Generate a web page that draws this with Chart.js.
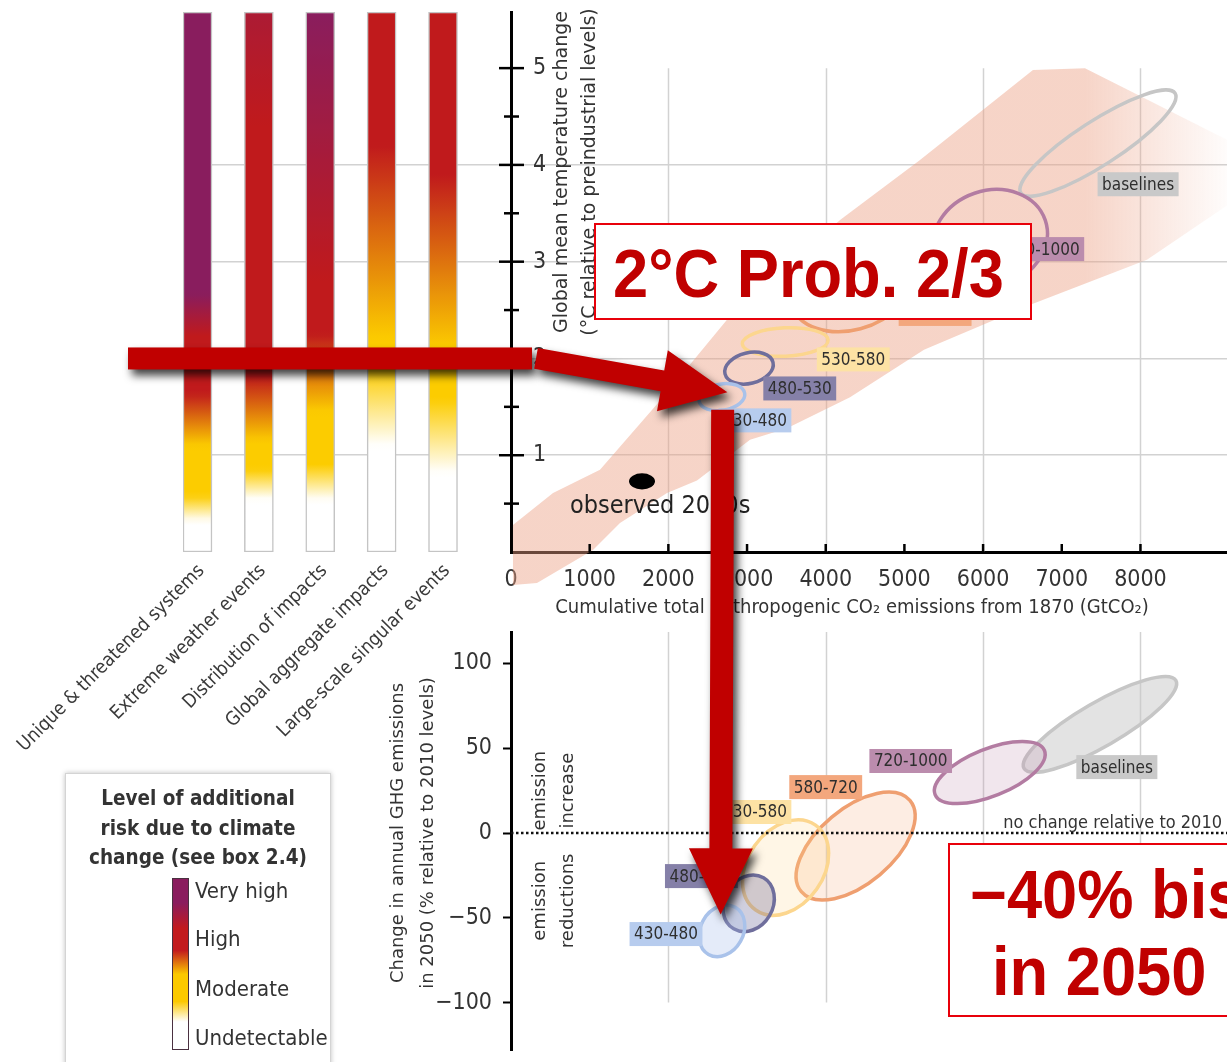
<!DOCTYPE html>
<html>
<head>
<meta charset="utf-8">
<script src="https://cdn.jsdelivr.net/npm/chart.js@4.4.1/dist/chart.umd.min.js"></script>
<style>
  html, body { margin: 0; padding: 0; background: #fff; }
  body { width: 1227px; height: 1062px; position: relative; overflow: hidden;
         font-family: "Liberation Sans Narrow", "DejaVu Sans Condensed", "Roboto Condensed", sans-serif; color: #333; }
  canvas { position: absolute; left: 0; }
  #riskChart { top: 0; z-index: 1; }
  #tempChart { top: 0; z-index: 2; }
  #ghgChart { top: 620px; z-index: 3; }
  #arrows { top: 0; z-index: 5; pointer-events: none; }
  .legend { position: absolute; left: 65px; top: 773px; width: 264px; height: 300px; background: #fff;
            border: 1px solid #d4d4d4; box-shadow: 0 0 5px rgba(0,0,0,0.25); z-index: 4; }
  .legend h4 { margin: 0; position: absolute; left: 0; top: 10px; width: 100%; text-align: center;
               font-size: 20.5px; line-height: 29.5px; font-weight: bold; color: #333; }
  .legend .bar { position: absolute; left: 106px; top: 104px; width: 15px; height: 170px; border: 1.5px solid #4a3040;
                 background: linear-gradient(to bottom, #8a1c5e 0%, #8a1c5e 14%, #c21a1e 29%, #c21a1e 42%, #fcc800 56%, #fcc800 72%, #ffffff 84%, #ffffff 100%); }
  .legend span { position: absolute; left: 129px; font-size: 22px; line-height: 26px; color: #333; }
  .redbox { position: absolute; background: #fff; border: 2px solid #e8000a; z-index: 6; }
  .redtext { position: absolute; z-index: 7; font-family: "Liberation Sans", Arial, sans-serif; font-weight: bold;
             font-size: 68px; line-height: 68px; color: #c00000; white-space: nowrap;
             transform: scaleX(0.93); transform-origin: left center; }
</style>
</head>
<body>
<canvas id="riskChart" width="512" height="760"></canvas>
<canvas id="tempChart" width="1227" height="640"></canvas>
<canvas id="ghgChart" width="1227" height="442"></canvas>
<canvas id="arrows" width="1227" height="1062"></canvas>

<div class="legend">
  <h4>Level of additional<br>risk due to climate<br>change (see box 2.4)</h4>
  <div class="bar"></div>
  <span style="top:104px">Very high</span>
  <span style="top:152px">High</span>
  <span style="top:202px">Moderate</span>
  <span style="top:251px">Undetectable</span>
</div>

<div class="redbox" style="left:594px; top:223px; width:434px; height:93px;"></div>
<div class="redtext" style="left:613px; top:239px;">2°C Prob. 2/3</div>
<div class="redbox" style="left:948px; top:843px; width:300px; height:170px;"></div>
<div class="redtext" style="left:970px; top:860px;">−40% bis</div>
<div class="redtext" style="left:992px; top:937px;">in 2050</div>

<script>
// ---- left panel: risk of climate impacts by warming level ----
const riskCategories = ['Unique & threatened systems', 'Extreme weather events', 'Distribution of impacts',
                        'Global aggregate impacts', 'Large-scale singular events'];
const riskBarTop = [5.58, 5.58, 5.58, 5.58, 5.58];
// warming (°C) at which each risk level is reached, and half width of the colour change
const moderateAt = [0.45, 0.70, 0.72, 1.50, 1.20];
const moderateSpread = [0.13, 0.15, 0.18, 0.40, 0.38];
const highAt = [1.37, 1.48, 1.85, 3.20, 3.00];
const highSpread = [0.27, 0.33, 0.40, 1.00, 0.90];
const veryHighAt = [2.45, 6.00, 4.20, null, null];
const veryHighSpread = [0.22, 1.60, 1.40, null, null];

// ---- upper right: warming vs cumulative CO2 ----
const scenarios = ['baselines', '720-1000', '580-720', '530-580', '480-530', '430-480'];
// outline of the model range (upper edge out, lower edge back)
const plumeCO2 = [25, 534, 1131, 1932, 2745, 4182, 5198, 6634, 7295, 9100, 9100,
                  8083, 6584, 5249, 4309, 3508, 3038, 2364, 1983, 1385, 1042, 330, 25];
const plumeTemp = [0.28, 0.61, 0.85, 1.60, 2.40, 3.43, 4.05, 4.98, 5.00, 4.26, 3.58,
                   3.02, 2.55, 2.09, 1.60, 1.28, 1.16, 0.74, 0.61, 0.30, 0.02, -0.32, -0.34];
// ends of the long axis of each scenario ellipse, and its short/long ratio
const tempEllipseCO2 = [[6480, 8440], [5390, 6790], [3570, 5050], [2940, 4030], [2720, 3330], [2390, 2970]];
const tempEllipseT = [[3.71, 4.74], [3.04, 3.43], [2.55, 2.87], [2.15, 2.19], [1.84, 1.96], [1.56, 1.64]];
const tempEllipseRatio = [0.24, 0.83, 0.67, 0.33, 0.62, 0.57];
const tempLabelCO2 = [7970, 6760, 5390, 4350, 3670, 3100];
const tempLabelT = [3.80, 3.13, 2.46, 1.99, 1.69, 1.36];
const observedCO2 = [1500, 1830];
const observedT = [0.73, 0.73];
const observedLabel = { co2: 750, t: 0.475, text: 'observed 2000s' };

// ---- lower right: change in GHG emissions in 2050 ----
const ghgEllipseCO2 = [[6520, 8450], [5390, 6780], [3690, 5070], [3110, 3870], [2830, 3210], [2510, 2850]];
const ghgEllipsePct = [[38.1, 90.0], [22.7, 48.7], [-34.6, 19.2], [-45.4, 4.7], [-56.5, -26.4], [-71.6, -43.8]];
const ghgEllipseRatio = [0.25, 0.40, 0.53, 0.73, 0.82, 0.79];
const ghgLabelCO2 = [7700, 5080, 4000, 3100, 2420, 1970];
const ghgLabelPct = [38.9, 42.5, 27.1, 12.4, -25.4, -59.6];

const co2Ticks = [0, 1000, 2000, 3000, 4000, 5000, 6000, 7000, 8000];
const co2Grid = [2000, 4000, 6000, 8000];
const tempTicks = [1, 2, 3, 4, 5];
const tempGrid = [1, 2, 3, 4];
const pctTicks = [-100, -50, 0, 50, 100];

// styles
const COND = '"Liberation Sans Narrow", "DejaVu Sans Condensed", "Roboto Condensed", sans-serif';
const WIDE = '"DejaVu Sans", Verdana, sans-serif';
const stroke = ['#c6c6c6', '#b37ca2', '#ef9f70', '#fcd68e', '#6f6e9c', '#a9c2ea'];
const tagBg = ['#c9c9c9', '#bb8cad', '#f3a77d', '#fde2a4', '#8580a8', '#b7ccee'];
const ghgFill = ['rgba(200,200,200,0.5)', 'rgba(190,140,175,0.22)', 'rgba(245,165,115,0.2)',
                 'rgba(253,215,140,0.22)', 'rgba(100,95,145,0.3)', 'rgba(165,190,235,0.3)'];
const levelColours = { none: [255, 255, 255], moderate: [252, 204, 0], high: [192, 26, 28], veryHigh: [137, 29, 94] };
const gridColour = '#d2d2d2';

Chart.defaults.font.family = COND;
Chart.defaults.color = '#333';

function ramp(t, at, spread) {
  if (at == null) return 0;
  return Math.min(1, Math.max(0, (t - at + spread) / (2 * spread)));
}
function mix(a, b, w) { return a.map((v, k) => v + (b[k] - v) * w); }
function riskColour(i, t) {
  let c = levelColours.none;
  c = mix(c, levelColours.moderate, ramp(t, moderateAt[i], moderateSpread[i]));
  c = mix(c, levelColours.high, ramp(t, highAt[i], highSpread[i]));
  c = mix(c, levelColours.veryHigh, ramp(t, veryHighAt[i], veryHighSpread[i]));
  return 'rgb(' + c.map(Math.round).join(',') + ')';
}

function riskFill(c) {
  const chart = c.chart;
  if (!chart.chartArea) return '#fff';
  const i = c.dataIndex;
  const y = chart.scales.y;
  const g = chart.ctx.createLinearGradient(0, y.getPixelForValue(0), 0, y.getPixelForValue(riskBarTop[i]));
  for (let k = 0; k <= 80; k++) {
    g.addColorStop(k / 80, riskColour(i, riskBarTop[i] * k / 80));
  }
  return g;
}

// keep the plot area where the layout padding puts it
function noEdgePadding(s) {
  s.paddingTop = 0; s.paddingBottom = 0; s.paddingLeft = 0; s.paddingRight = 0;
}

// rotated multi-line text
function sideText(ctx, lines, x, y, gap, font) {
  ctx.save();
  ctx.font = font;
  ctx.fillStyle = '#333';
  ctx.textAlign = 'center';
  ctx.textBaseline = 'middle';
  lines.forEach((s, k) => {
    ctx.save();
    ctx.translate(x + k * gap, y);
    ctx.rotate(-Math.PI / 2);
    ctx.fillText(s, 0, 0);
    ctx.restore();
  });
  ctx.restore();
}

// ellipses are drawn from the two ends of their long axis, placed by the chart's scales
const ellipsePlugin = {
  id: 'ellipses',
  beforeDatasetsDraw(chart) {
    const ctx = chart.ctx;
    const {x, y} = chart.scales;
    ctx.save();
    ctx.strokeStyle = gridColour;
    ctx.lineWidth = 1.5;
    const top = chart.options.gridTop;
    const bottom = chart.options.gridBottom;
    co2Grid.forEach(v => {
      const px = Math.round(x.getPixelForValue(v)) + 0.5;
      ctx.beginPath();
      ctx.moveTo(px, top == null ? chart.chartArea.top : y.getPixelForValue(top));
      ctx.lineTo(px, y.getPixelForValue(bottom));
      ctx.stroke();
    });
    // plume
    chart.data.datasets.forEach((ds, i) => {
      if (!ds.plume) return;
      const pts = chart.getDatasetMeta(i).data;
      const g = ctx.createLinearGradient(x.getPixelForValue(7300), 0, x.getPixelForValue(9100), 0);
      g.addColorStop(0, 'rgba(236,160,132,0.45)');
      g.addColorStop(1, 'rgba(236,160,132,0.03)');
      ctx.fillStyle = g;
      ctx.beginPath();
      pts.forEach((p, k) => k ? ctx.lineTo(p.x, p.y) : ctx.moveTo(p.x, p.y));
      ctx.closePath();
      ctx.fill();
    });
    ctx.restore();
  },
  afterDatasetsDraw(chart) {
    const ctx = chart.ctx;
    const {x, y} = chart.scales;
    ctx.save();
    chart.data.datasets.forEach((ds, i) => {
      if (!ds.ellipseRatio) return;
      const [a, b] = chart.getDatasetMeta(i).data;
      const r = Math.hypot(b.x - a.x, b.y - a.y) / 2;
      ctx.beginPath();
      ctx.ellipse((a.x + b.x) / 2, (a.y + b.y) / 2, r, r * ds.ellipseRatio, Math.atan2(b.y - a.y, b.x - a.x), 0, Math.PI * 2);
      if (ds.fillColour) { ctx.fillStyle = ds.fillColour; ctx.fill(); }
      if (ds.strokeColour) { ctx.lineWidth = 3.5; ctx.strokeStyle = ds.strokeColour; ctx.stroke(); }
    });
    ctx.font = '17px ' + COND;
    ctx.textAlign = 'center';
    ctx.textBaseline = 'middle';
    chart.data.datasets.forEach(ds => {
      if (!ds.tag) return;
      const cx = x.getPixelForValue(ds.tagX), cy = y.getPixelForValue(ds.tagY);
      const w = ctx.measureText(ds.tag).width + 9;
      ctx.fillStyle = ds.tagBg;
      ctx.fillRect(cx - w / 2, cy - 12, w, 24);
      ctx.fillStyle = '#2e2e2e';
      ctx.fillText(ds.tag, cx, cy + 1);
    });
    ctx.restore();
  }
};

function ellipseSets(co2, val, ratio, labX, labY, withFill) {
  return scenarios.map((s, i) => ({
    data: [{x: co2[i][0], y: val[i][0]}, {x: co2[i][1], y: val[i][1]}],
    pointRadius: 0, pointHoverRadius: 0,
    ellipseRatio: ratio[i], strokeColour: stroke[i], fillColour: withFill ? ghgFill[i] : null,
    tag: s, tagX: labX[i], tagY: labY[i], tagBg: tagBg[i]
  }));
}

// ---------- left risk bars ----------
const riskChart = new Chart(document.getElementById('riskChart'), {
  type: 'bar',
  data: {
    datasets: [{
      data: riskCategories.map((_, i) => ({x: i, y: riskBarTop[i]})),
      backgroundColor: riskFill,
      borderColor: '#c4c4c4',
      borderWidth: 1.5,
      borderSkipped: false,
      barThickness: 29
    }]
  },
  options: {
    responsive: false, animation: false, events: [],
    layout: { autoPadding: false, padding: { top: 12, left: 0, right: 0, bottom: 0 } },
    plugins: { legend: { display: false }, tooltip: { enabled: false } },
    scales: {
      x: {
        type: 'linear', min: -0.236, max: 5.124, offset: false,
        afterBuildTicks: s => { s.ticks = riskCategories.map((_, i) => ({value: i})); },
        afterFit: s => { s.height = 208; noEdgePadding(s); },
        grid: { display: false, offset: false }, border: { display: false },
        ticks: { autoSkip: false, minRotation: 45, maxRotation: 45, padding: 0, labelOffset: 4,
                 font: { size: 19 }, color: '#3a3a3a', callback: v => riskCategories[v] }
      },
      y: {
        min: 0, max: 5.58, z: 1,
        afterFit: s => { s.width = 183; noEdgePadding(s); },
        afterBuildTicks: s => { s.ticks = tempGrid.map(v => ({value: v})); },
        ticks: { display: false }, border: { display: false },
        grid: { color: gridColour, lineWidth: 1.5, drawTicks: false }
      }
    }
  }
});

// ---------- warming vs cumulative emissions ----------
const tempAxes = {
  id: 'tempAxes',
  afterDraw(chart) {
    const ctx = chart.ctx;
    const {x, y} = chart.scales;
    const left = chart.chartArea.left, bottom = chart.chartArea.bottom;
    ctx.save();
    ctx.strokeStyle = '#000';
    ctx.lineWidth = 2.5;
    tempTicks.forEach(v => {
      ctx.beginPath(); ctx.moveTo(left - 12, y.getPixelForValue(v)); ctx.lineTo(left + 13, y.getPixelForValue(v)); ctx.stroke();
      ctx.beginPath(); ctx.moveTo(left - 7, y.getPixelForValue(v - 0.5)); ctx.lineTo(left + 8, y.getPixelForValue(v - 0.5)); ctx.stroke();
    });
    co2Ticks.forEach(v => {
      if (!v) return;
      ctx.beginPath(); ctx.moveTo(x.getPixelForValue(v), bottom - 8); ctx.lineTo(x.getPixelForValue(v), bottom); ctx.stroke();
    });
    ctx.restore();
    sideText(ctx, ['Global mean temperature change', '(°C relative to preindustrial levels)'],
             left + 51, 172, 28, '19px ' + WIDE);
    ctx.save();
    ctx.font = '25px ' + COND;
    ctx.fillStyle = '#222';
    ctx.textBaseline = 'middle';
    ctx.fillText(observedLabel.text, x.getPixelForValue(observedLabel.co2), y.getPixelForValue(observedLabel.t));
    ctx.font = '20px ' + COND;
    ctx.fillStyle = '#333';
    ctx.textAlign = 'center';
    ctx.fillText('Cumulative total anthropogenic CO₂ emissions from 1870 (GtCO₂)', left + 341, bottom + 56);
    ctx.restore();
  }
};

const tempChart = new Chart(document.getElementById('tempChart'), {
  type: 'scatter',
  data: {
    datasets: [
      { plume: true, data: plumeCO2.map((v, i) => ({x: v, y: plumeTemp[i]})), pointRadius: 0, pointHoverRadius: 0 },
      ...ellipseSets(tempEllipseCO2, tempEllipseT, tempEllipseRatio, tempLabelCO2, tempLabelT, false),
      { data: observedCO2.map((v, i) => ({x: v, y: observedT[i]})), pointRadius: 0, pointHoverRadius: 0,
        ellipseRatio: 0.62, fillColour: '#000' }
    ]
  },
  options: {
    responsive: false, animation: false, events: [],
    gridTop: 5, gridBottom: 0,
    layout: { autoPadding: false, padding: { top: 12, left: 0, right: 0, bottom: 0 } },
    plugins: { legend: { display: false }, tooltip: { enabled: false } },
    scales: {
      x: {
        type: 'linear', min: 0, max: 9100,
        afterBuildTicks: s => { s.ticks = co2Ticks.map(v => ({value: v})); },
        afterFit: s => { s.height = 88; noEdgePadding(s); },
        grid: { display: false },
        border: { color: '#000', width: 3 },
        ticks: { padding: 6, font: { size: 23 }, color: '#333', callback: v => String(v) }
      },
      y: {
        min: 0, max: 5.58,
        afterFit: s => { s.width = 511; noEdgePadding(s); },
        afterBuildTicks: s => { s.ticks = [0, ...tempTicks].map(v => ({value: v})); },
        border: { color: '#000', width: 3 },
        grid: { drawTicks: false, lineWidth: 1.5,
                color: c => tempGrid.includes(c.tick && c.tick.value) ? gridColour : 'rgba(0,0,0,0)' },
        ticks: { mirror: true, padding: 22, font: { size: 23 }, color: '#333',
                 callback: v => v ? String(v) : '' }
      }
    }
  },
  plugins: [ellipsePlugin, tempAxes]
});

// ---------- change in GHG emissions in 2050 ----------
const ghgExtras = {
  id: 'ghgExtras',
  afterDatasetsDraw(chart) {
    const ctx = chart.ctx;
    const {y} = chart.scales;
    const {left, right} = chart.chartArea;
    const y0 = Math.round(y.getPixelForValue(0));
    ctx.save();
    ctx.strokeStyle = '#111';
    ctx.lineWidth = 2.5;
    ctx.setLineDash([2.5, 2.5]);
    ctx.beginPath(); ctx.moveTo(left, y0); ctx.lineTo(right, y0); ctx.stroke();
    ctx.setLineDash([]);
    ctx.font = '18px ' + COND;
    ctx.fillStyle = '#333';
    ctx.textAlign = 'right';
    ctx.textBaseline = 'alphabetic';
    ctx.fillText('no change relative to 2010', right - 5, y0 - 5);
    ctx.restore();
    sideText(ctx, ['emission', 'increase'], left + 29, y.getPixelForValue(25), 28, '18px ' + WIDE);
    sideText(ctx, ['emission', 'reductions'], left + 29, y.getPixelForValue(-40), 28, '18px ' + WIDE);
    sideText(ctx, ['Change in annual GHG emissions', 'in 2050 (% relative to 2010 levels)'],
             left - 113, y.getPixelForValue(0), 30, '18px ' + WIDE);
  }
};

const ghgChart = new Chart(document.getElementById('ghgChart'), {
  type: 'scatter',
  data: { datasets: ellipseSets(ghgEllipseCO2, ghgEllipsePct, ghgEllipseRatio, ghgLabelCO2, ghgLabelPct, true) },
  options: {
    responsive: false, animation: false, events: [],
    gridTop: null, gridBottom: -100,
    layout: { autoPadding: false, padding: { top: 12, left: 0, right: 0, bottom: 12 } },
    plugins: { legend: { display: false }, tooltip: { enabled: false } },
    scales: {
      x: { type: 'linear', min: 0, max: 9100, display: false },
      y: {
        min: -128, max: 118.6,
        afterFit: s => { s.width = 511; noEdgePadding(s); },
        afterBuildTicks: s => { s.ticks = pctTicks.map(v => ({value: v})); },
        border: { color: '#000', width: 3 },
        grid: { drawOnChartArea: false, drawTicks: true, tickLength: 8, tickColor: '#000', tickWidth: 2 },
        ticks: { padding: 11, font: { size: 23 }, color: '#333',
                 callback: v => String(v).replace('-', '−') }
      }
    }
  },
  plugins: [ellipsePlugin, ghgExtras]
});

// ---------- red arrows ----------
const arrowTemp = 2.0;        // warming level picked out on the risk bars
const arrowTipCO2 = 2750, arrowTipTemp = 1.65;
const arrowCO2 = 2690;        // downward arrow to the emissions panel
const arrowStartTemp = 1.47, arrowEndPct = -48;

(function drawArrows() {
  const ctx = document.getElementById('arrows').getContext('2d');
  const ghgTop = 620;
  const red = '#c00000';
  ctx.fillStyle = red;
  ctx.shadowColor = 'rgba(0,0,0,0.75)';
  ctx.shadowBlur = 9;
  ctx.shadowOffsetX = 4;
  ctx.shadowOffsetY = 6;

  function arrow(sx, sy, tx, ty, shaft, head, headLen) {
    const len = Math.hypot(tx - sx, ty - sy);
    const ux = (tx - sx) / len, uy = (ty - sy) / len;
    const nx = -uy, ny = ux;
    const bx = tx - ux * headLen, by = ty - uy * headLen;
    ctx.beginPath();
    ctx.moveTo(sx + nx * shaft, sy + ny * shaft);
    ctx.lineTo(bx + nx * shaft, by + ny * shaft);
    ctx.lineTo(bx + nx * head, by + ny * head);
    ctx.lineTo(tx, ty);
    ctx.lineTo(bx - nx * head, by - ny * head);
    ctx.lineTo(bx - nx * shaft, by - ny * shaft);
    ctx.lineTo(sx - nx * shaft, sy - ny * shaft);
    ctx.closePath();
    ctx.fill();
  }

  const ty = tempChart.scales.y, tx = tempChart.scales.x;
  const yArrow = ty.getPixelForValue(arrowTemp);
  ctx.fillRect(128, yArrow - 11, 404, 22);
  arrow(536, yArrow, tx.getPixelForValue(arrowTipCO2), ty.getPixelForValue(arrowTipTemp), 10.5, 31, 66);
  const xv = tx.getPixelForValue(arrowCO2);
  arrow(xv, ty.getPixelForValue(arrowStartTemp), xv - 2, ghgTop + ghgChart.scales.y.getPixelForValue(arrowEndPct), 11.5, 32, 66);
})();
</script>
</body>
</html>
